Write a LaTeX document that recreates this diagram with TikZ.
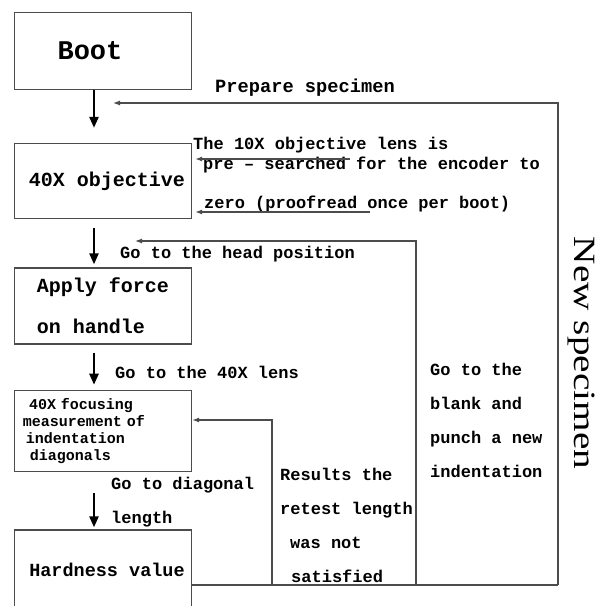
\documentclass[tikz,border=0pt]{standalone}
\usepackage{fontspec}
\setmainfont{Liberation Mono}
\newfontfamily\specfont{Liberation Serif}
\usetikzlibrary{arrows.meta, positioning}

\begin{document}
\begin{tikzpicture}[x=1pt, y=-1pt,
    block/.style={rectangle, draw=black!70, line width=1.3pt, minimum width=177pt, align=center, font=\bfseries\fontsize{20}{41}\selectfont},
    note/.style={anchor=north west, inner sep=0pt, align=left, font=\bfseries\fontsize{17}{34}\selectfont},
    down/.style={draw, -{Triangle[length=11pt,width=9pt]}, line width=2.4pt},
    line/.style={draw=black!70, line width=1.2pt, -{Latex[length=7pt,width=5pt]}}]

    \useasboundingbox (0,0) rectangle (600,606);
    \fill[white] (0,0) rectangle (600,606);

    % main column
    \node [block, minimum height=77pt, font=\bfseries\fontsize{27}{30}\selectfont] (boot) at (103,51) {Boot\hspace*{26pt}};
    \node [block, minimum height=75pt] (obj) at (103,181) {\hspace*{8pt}40X objective};
    \node [block, minimum height=76pt, align=left] (force) at (103,306) {Apply force\\on handle};
    \node [block, minimum height=76pt, text width=160pt, inner sep=8pt, align=left, font=\bfseries\fontsize{15}{17}\selectfont] (focus) at (103,431) {\hspace*{6pt}40X focusing\\measurement of\\\hspace*{3pt}indentation\\\hspace*{7pt}diagonals};
    \node [block, minimum height=82pt, font=\bfseries\fontsize{18.5}{22}\selectfont] (hard) at (103,571) {\raisebox{3pt}{\hspace*{8pt}Hardness value}};

    % labels
    \node [note, font=\bfseries\fontsize{18.7}{22}\selectfont] (prep) at (215,79) {Prepare specimen};
    \node [note, font=\bfseries\fontsize{17}{20}\selectfont] (lens) at (193,137) {The 10X objective lens is\\\hspace*{10pt}pre – searched for the encoder to\\[19pt]\hspace*{11pt}zero (proofread once per boot)};
    \node [note] (head) at (120,246) {Go to the head position};
    \node [note] (lens40) at (115,366) {Go to the 40X lens};
    \node [note] (diag) at (111,477) {Go to diagonal\\length};
    \node [note] (retest) at (280,468) {Results the\\retest length\\\hspace*{10pt}was not\\\hspace*{11pt}satisfied};
    \node [note] (blank) at (430,363) {Go to the\\blank and\\punch a new\\indentation};
    \node [rotate=-90, anchor=base, inner sep=0pt, font=\specfont\fontsize{36}{40}\selectfont] (spec) at (574,353) {\scalebox{1.09}[0.86]{New specimen}};

    % forward arrows
    \path [down] ([xshift=-9pt]boot.south) -- ([xshift=-9pt, yshift=15pt]obj.north);
    \path [down] ([xshift=-9pt, yshift=-9pt]obj.south) -- ([xshift=-9pt, yshift=3pt]force.north);
    \path [down] ([xshift=-9pt, yshift=-8pt]force.south) -- ([xshift=-9pt, yshift=5pt]focus.north);
    \path [down] ([xshift=-9pt, yshift=-21pt]focus.south) -- ([xshift=-9pt, yshift=2pt]hard.north);

    % return loops
    \coordinate (c1) at (272,585);
    \coordinate (c2) at (416,585);
    \coordinate (c3) at (558,585);
    \coordinate (c1top) at (272,420);
    \coordinate (headin) at (135,241);
    \coordinate (prepin) at (113,103);
    \draw [draw=black!70, line width=1.2pt] (hard.east |- c3) -- (c3);
    \path [line] (c3) |- (prepin);
    \path [line] (c2) |- (headin);
    \path [line] (c1) -- (c1top) -- (c1top -| focus.east);

    % zero search arrows
    \coordinate (t1) at (350,159);
    \coordinate (t2) at (370,212);
    \path [line, shorten >=3pt] (t1) -- (t1 -| obj.east);
    \path [line, shorten >=3pt] (t2) -- (t2 -| obj.east);
\end{tikzpicture}
\end{document}
